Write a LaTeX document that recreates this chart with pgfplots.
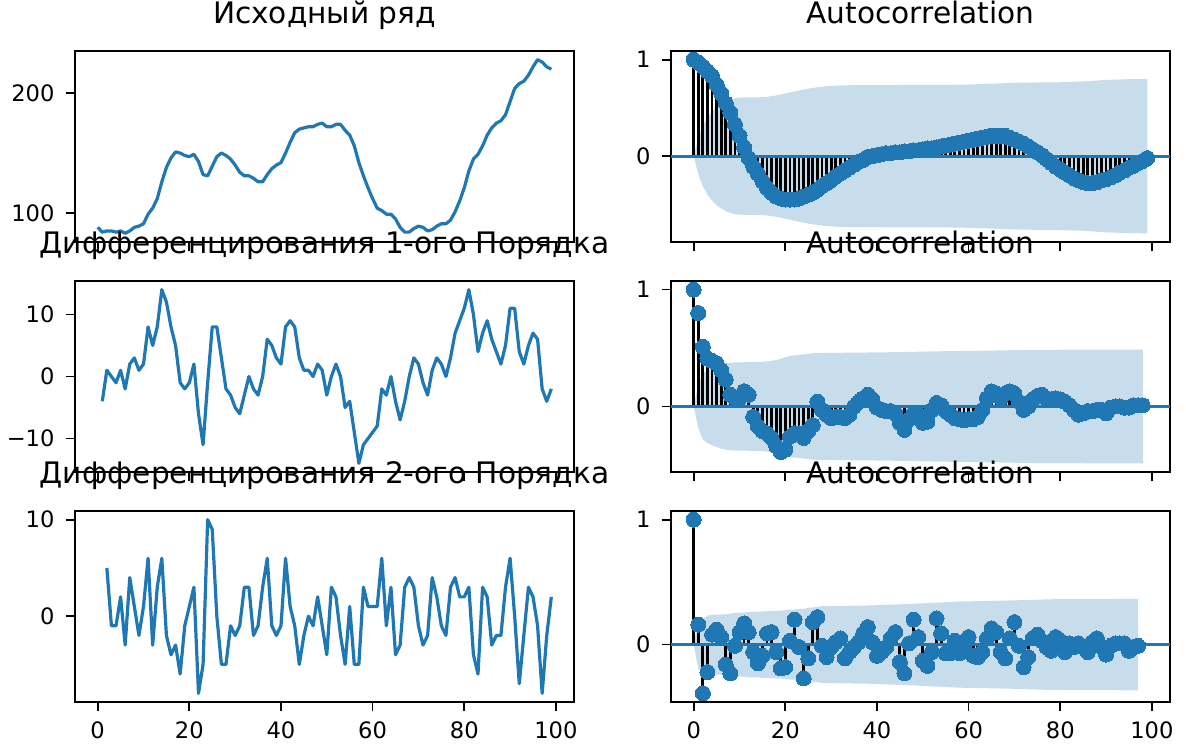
\documentclass[border=0pt]{standalone}
\usepackage{fontspec}
\setmainfont{DejaVu Sans}
\usepackage{pgfplots}
\usepackage{pgfplotstable}
\pgfplotsset{compat=1.18}
\definecolor{mplblue}{HTML}{1F77B4}
\definecolor{bandc}{HTML}{C7DDEC}
\pgfplotsset{
  panel/.style={
    scale only axis, width=249.5pt, height=95.5pt,
    xmin=-4.95, xmax=103.95,
    anchor=north west,
    axis line style={black, line width=0.85pt},
    tick align=outside, tick pos=left,
    major tick length=4.65pt,
    every tick/.append style={black, line width=0.85pt},
    xtick={0,20,40,60,80,100},
    xticklabels={},
    minor tick num=0,
    scaled y ticks=false,
    /pgf/number format/assume math mode=true,
    tick label style={font=\fontsize{11.3}{13.5}\selectfont},
    yticklabel style={anchor=east, inner sep=0pt, xshift=-5.4pt},
    xticklabel style={anchor=north, inner sep=0pt, yshift=-4.9pt},
    title style={font=\fontsize{14.8}{17}\selectfont, at={(0.5,1)}, anchor=base, yshift=7.5pt, inner sep=0pt},
  },
  bottomrow/.style={xticklabels={0,20,40,60,80,100}},
  series/.style={mplblue, line width=1.6pt, line join=round, mark=none},
  stems/.style={ycomb, black, line width=1.4pt, mark=none},
  zline/.style={mplblue, line width=1.6pt, mark=none},
  dots/.style={only marks, mark=*, mark size=3.75pt, mark options={fill=mplblue, draw=mplblue, line width=0pt}},
  bandfill/.style={fill=bandc, draw=none, mark=none},
}
\pgfplotstableread{
k r
0 1.00
1 0.97
2 0.93
3 0.88
4 0.83
5 0.74
6 0.65
7 0.55
8 0.45
9 0.33
10 0.21
11 0.09
12 -0.02
13 -0.11
14 -0.18
15 -0.26
16 -0.33
17 -0.38
18 -0.42
19 -0.44
20 -0.45
21 -0.45
22 -0.45
23 -0.44
24 -0.42
25 -0.40
26 -0.38
27 -0.35
28 -0.31
29 -0.28
30 -0.25
31 -0.21
32 -0.18
33 -0.15
34 -0.12
35 -0.09
36 -0.06
37 -0.04
38 -0.01
39 0.00
40 0.01
41 0.02
42 0.03
43 0.03
44 0.04
45 0.04
46 0.05
47 0.05
48 0.06
49 0.06
50 0.07
51 0.08
52 0.08
53 0.09
54 0.10
55 0.11
56 0.12
57 0.13
58 0.14
59 0.15
60 0.16
61 0.17
62 0.18
63 0.19
64 0.20
65 0.21
66 0.21
67 0.21
68 0.21
69 0.19
70 0.17
71 0.15
72 0.13
73 0.10
74 0.07
75 0.04
76 0.01
77 -0.03
78 -0.07
79 -0.11
80 -0.14
81 -0.17
82 -0.20
83 -0.23
84 -0.25
85 -0.27
86 -0.28
87 -0.28
88 -0.27
89 -0.25
90 -0.24
91 -0.22
92 -0.20
93 -0.17
94 -0.15
95 -0.12
96 -0.10
97 -0.07
98 -0.05
99 -0.02
}\acfA
\pgfplotstableread{
k r
0 1.00
1 0.80
2 0.51
3 0.41
4 0.39
5 0.37
6 0.31
7 0.23
8 0.10
9 0.07
10 0.07
11 0.13
12 0.10
13 -0.09
14 -0.17
15 -0.21
16 -0.23
17 -0.27
18 -0.34
19 -0.39
20 -0.37
21 -0.26
22 -0.23
23 -0.23
24 -0.27
25 -0.21
26 -0.16
27 0.04
28 -0.03
29 -0.07
30 -0.10
31 -0.09
32 -0.09
33 -0.10
34 -0.07
35 0.00
36 0.04
37 0.07
38 0.10
39 0.06
40 -0.01
41 -0.03
42 -0.04
43 -0.04
44 -0.06
45 -0.14
46 -0.20
47 -0.11
48 -0.06
49 -0.07
50 -0.14
51 -0.13
52 -0.03
53 0.03
54 0.01
55 -0.04
56 -0.07
57 -0.10
58 -0.11
59 -0.12
60 -0.11
61 -0.11
62 -0.09
63 -0.03
64 0.07
65 0.13
66 0.11
67 0.07
68 0.11
69 0.13
70 0.11
71 0.04
72 -0.03
73 0.00
74 0.06
75 0.09
76 0.10
77 0.07
78 0.06
79 0.07
80 0.06
81 0.04
82 0.01
83 -0.03
84 -0.07
85 -0.06
86 -0.04
87 -0.04
88 -0.03
89 -0.03
90 -0.06
91 -0.01
92 0.00
93 0.00
94 -0.01
95 -0.01
96 0.01
97 0.01
98 0.01
}\acfB
\pgfplotstableread{
k r
0 1.00
1 0.16
2 -0.39
3 -0.22
4 0.08
5 0.12
6 0.06
7 -0.16
8 -0.23
9 -0.01
10 0.10
11 0.17
12 0.10
13 -0.06
14 -0.15
15 -0.09
16 0.09
17 0.10
18 -0.06
19 -0.19
20 -0.18
21 0.03
22 0.20
23 -0.02
24 -0.27
25 -0.11
26 0.18
27 0.22
28 -0.01
29 -0.10
30 -0.02
31 0.02
32 0.05
33 -0.11
34 -0.06
35 -0.02
36 0.02
37 0.09
38 0.14
39 0.02
40 -0.09
41 -0.06
42 -0.02
43 0.05
44 0.10
45 -0.14
46 -0.23
47 0.01
48 0.20
49 0.06
50 -0.13
51 -0.17
52 -0.06
53 0.21
54 0.09
55 -0.07
56 -0.07
57 0.03
58 -0.07
59 -0.02
60 0.06
61 -0.09
62 -0.10
63 -0.06
64 0.05
65 0.13
66 0.10
67 -0.06
68 -0.11
69 0.05
70 0.18
71 -0.01
72 -0.18
73 -0.10
74 0.05
75 0.08
76 0.03
77 -0.02
78 -0.05
79 0.06
80 0.03
81 -0.06
82 0.01
83 -0.02
84 0.01
85 -0.02
86 -0.06
87 0.02
88 0.05
89 -0.02
90 -0.08
91 -0.01
92 0.01
93 0.01
94 0.01
95 -0.05
96 -0.02
97 -0.01
}\acfC
\begin{document}
\begin{tikzpicture}
\useasboundingbox (0,0) rectangle (593pt,-373.5pt);
% ---------- left column ----------
\begin{axis}[panel, at={(37.5pt,-25.5pt)}, ymin=75.75, ymax=235.25, ytick={100,200}, yticklabels={100,200}, title={Исходный ряд}]
\addplot[series] coordinates {(0,88)(1,84)(2,85)(3,85)(4,84)(5,85)(6,83)(7,85)(8,88)(9,89)(10,91)(11,99)(12,104)(13,112)(14,126)(15,138)(16,146)(17,151)(18,150)(19,148)(20,147)(21,149)(22,143)(23,132)(24,131)(25,139)(26,147)(27,150)(28,148)(29,145)(30,140)(31,134)(32,131)(33,131)(34,129)(35,126)(36,126)(37,132)(38,137)(39,140)(40,142)(41,150)(42,159)(43,167)(44,170)(45,171)(46,172)(47,172)(48,174)(49,175)(50,172)(51,172)(52,174)(53,174)(54,169)(55,165)(56,156)(57,142)(58,131)(59,121)(60,112)(61,104)(62,102)(63,99)(64,99)(65,95)(66,88)(67,84)(68,84)(69,87)(70,89)(71,88)(72,85)(73,86)(74,89)(75,91)(76,91)(77,94)(78,101)(79,110)(80,121)(81,135)(82,145)(83,149)(84,156)(85,165)(86,171)(87,175)(88,177)(89,182)(90,193)(91,204)(92,208)(93,210)(94,215)(95,222)(96,228)(97,226)(98,222)(99,220)};
\end{axis}
\begin{axis}[panel, at={(37.5pt,-140.5pt)}, ymin=-15.4, ymax=15.4, ytick={-10,0,10}, yticklabels={−10,0,10}, title={Дифференцирования 1-ого Порядка}]
\addplot[series] coordinates {(1,-4)(2,1)(3,0)(4,-1)(5,1)(6,-2)(7,2)(8,3)(9,1)(10,2)(11,8)(12,5)(13,8)(14,14)(15,12)(16,8)(17,5)(18,-1)(19,-2)(20,-1)(21,2)(22,-6)(23,-11)(24,-1)(25,8)(26,8)(27,3)(28,-2)(29,-3)(30,-5)(31,-6)(32,-3)(33,0)(34,-2)(35,-3)(36,0)(37,6)(38,5)(39,3)(40,2)(41,8)(42,9)(43,8)(44,3)(45,1)(46,1)(47,0)(48,2)(49,1)(50,-3)(51,0)(52,2)(53,0)(54,-5)(55,-4)(56,-9)(57,-14)(58,-11)(59,-10)(60,-9)(61,-8)(62,-2)(63,-3)(64,0)(65,-4)(66,-7)(67,-4)(68,0)(69,3)(70,2)(71,-1)(72,-3)(73,1)(74,3)(75,2)(76,0)(77,3)(78,7)(79,9)(80,11)(81,14)(82,10)(83,4)(84,7)(85,9)(86,6)(87,4)(88,2)(89,5)(90,11)(91,11)(92,4)(93,2)(94,5)(95,7)(96,6)(97,-2)(98,-4)(99,-2)};
\end{axis}
\begin{axis}[panel, bottomrow, at={(37.5pt,-255.5pt)}, ymin=-8.9, ymax=10.9, ytick={0,10}, yticklabels={0,10}, title={Дифференцирования 2-ого Порядка}]
\addplot[series] coordinates {(2,5)(3,-1)(4,-1)(5,2)(6,-3)(7,4)(8,1)(9,-2)(10,1)(11,6)(12,-3)(13,3)(14,6)(15,-2)(16,-4)(17,-3)(18,-6)(19,-1)(20,1)(21,3)(22,-8)(23,-5)(24,10)(25,9)(26,0)(27,-5)(28,-5)(29,-1)(30,-2)(31,-1)(32,3)(33,3)(34,-2)(35,-1)(36,3)(37,6)(38,-1)(39,-2)(40,-1)(41,6)(42,1)(43,-1)(44,-5)(45,-2)(46,0)(47,-1)(48,2)(49,-1)(50,-4)(51,3)(52,2)(53,-2)(54,-5)(55,1)(56,-5)(57,-5)(58,3)(59,1)(60,1)(61,1)(62,6)(63,-1)(64,3)(65,-4)(66,-3)(67,3)(68,4)(69,3)(70,-1)(71,-3)(72,-2)(73,4)(74,2)(75,-1)(76,-2)(77,3)(78,4)(79,2)(80,2)(81,3)(82,-4)(83,-6)(84,3)(85,2)(86,-3)(87,-2)(88,-2)(89,3)(90,6)(91,0)(92,-7)(93,-2)(94,3)(95,2)(96,-1)(97,-8)(98,-2)(99,2)};
\end{axis}
% ---------- right column ----------
\begin{axis}[panel, at={(335.5pt,-25.5pt)}, ymin=-0.89, ymax=1.09, ytick={0,1}, yticklabels={0,1}, title={Autocorrelation}]
\addplot[bandfill] coordinates {(0,0)(1,0.185)(2,0.315)(3,0.398)(4,0.46)(5,0.508)(6,0.544)(7,0.570)(8,0.589)(9,0.600)(10,0.606)(11,0.608)(13,0.609)(14,0.610)(15,0.611)(16,0.615)(17,0.622)(18,0.629)(19,0.639)(20,0.649)(21,0.660)(22,0.670)(23,0.680)(24,0.690)(25,0.699)(26,0.707)(27,0.714)(28,0.720)(29,0.724)(30,0.728)(31,0.731)(32,0.733)(33,0.734)(35,0.736)(40,0.737)(50,0.738)(55,0.739)(60,0.743)(65,0.751)(70,0.760)(75,0.764)(80,0.766)(85,0.774)(90,0.790)(95,0.798)(99,0.800)
(99,-0.800)(95,-0.798)(90,-0.790)(85,-0.774)(80,-0.766)(75,-0.764)(70,-0.760)(65,-0.751)(60,-0.743)(55,-0.739)(50,-0.738)(40,-0.737)(35,-0.736)(33,-0.734)(32,-0.733)(31,-0.731)(30,-0.728)(29,-0.724)(28,-0.720)(27,-0.714)(26,-0.707)(25,-0.699)(24,-0.690)(23,-0.680)(22,-0.670)(21,-0.660)(20,-0.649)(19,-0.639)(18,-0.629)(17,-0.622)(16,-0.615)(15,-0.611)(14,-0.610)(13,-0.609)(11,-0.608)(10,-0.606)(9,-0.600)(8,-0.589)(7,-0.570)(6,-0.544)(5,-0.508)(4,-0.46)(3,-0.398)(2,-0.315)(1,-0.185)(0,0)};
\addplot[stems] table[x=k,y=r]{\acfA};
\addplot[zline] coordinates {(-4.95,0)(103.95,0)};
\addplot[dots] table[x=k,y=r]{\acfA};
\end{axis}
\begin{axis}[panel, at={(335.5pt,-140.5pt)}, ymin=-0.561, ymax=1.074, ytick={0,1}, yticklabels={0,1}, title={Autocorrelation}]
\addplot[bandfill] coordinates {(0,0)(1,0.187)(2,0.282)(3,0.314)(4,0.332)(5,0.347)(6,0.361)(7,0.370)(8,0.375)(9,0.377)(10,0.378)(12,0.379)(14,0.380)(15,0.383)(16,0.387)(17,0.391)(18,0.398)(19,0.408)(20,0.421)(21,0.432)(22,0.438)(23,0.442)(24,0.446)(25,0.451)(26,0.455)(27,0.457)(35,0.461)(41,0.463)(47,0.467)(53,0.472)(63,0.477)(73,0.484)(83,0.486)(98,0.487)
(98,-0.487)(83,-0.486)(73,-0.484)(63,-0.477)(53,-0.472)(47,-0.467)(41,-0.463)(35,-0.461)(27,-0.457)(26,-0.455)(25,-0.451)(24,-0.446)(23,-0.442)(22,-0.438)(21,-0.432)(20,-0.421)(19,-0.408)(18,-0.398)(17,-0.391)(16,-0.387)(15,-0.383)(14,-0.380)(12,-0.379)(10,-0.378)(9,-0.377)(8,-0.375)(7,-0.370)(6,-0.361)(5,-0.347)(4,-0.332)(3,-0.314)(2,-0.282)(1,-0.187)(0,0)};
\addplot[stems] table[x=k,y=r]{\acfB};
\addplot[zline] coordinates {(-4.95,0)(103.95,0)};
\addplot[dots] table[x=k,y=r]{\acfB};
\end{axis}
\begin{axis}[panel, bottomrow, at={(335.5pt,-255.5pt)}, ymin=-0.4595, ymax=1.0695, ytick={0,1}, yticklabels={0,1}, title={Autocorrelation}]
\addplot[bandfill] coordinates {(0,0)(1,0.198)(2,0.203)(3,0.231)(4,0.239)(5,0.240)(6,0.241)(7,0.243)(8,0.247)(9,0.255)(10,0.255)(11,0.256)(12,0.261)(13,0.262)(14,0.263)(15,0.266)(16,0.267)(17,0.269)(18,0.270)(19,0.271)(20,0.276)(21,0.280)(22,0.280)(23,0.286)(24,0.286)(25,0.296)(26,0.297)(27,0.302)(28,0.308)(38,0.313)(48,0.327)(58,0.345)(68,0.352)(78,0.363)(97,0.366)
(97,-0.366)(78,-0.363)(68,-0.352)(58,-0.345)(48,-0.327)(38,-0.313)(28,-0.308)(27,-0.302)(26,-0.297)(25,-0.296)(24,-0.286)(23,-0.286)(22,-0.280)(21,-0.280)(20,-0.276)(19,-0.271)(18,-0.270)(17,-0.269)(16,-0.267)(15,-0.266)(14,-0.263)(13,-0.262)(12,-0.261)(11,-0.256)(10,-0.255)(9,-0.255)(8,-0.247)(7,-0.243)(6,-0.241)(5,-0.240)(4,-0.239)(3,-0.231)(2,-0.203)(1,-0.198)(0,0)};
\addplot[stems] table[x=k,y=r]{\acfC};
\addplot[zline] coordinates {(-4.95,0)(103.95,0)};
\addplot[dots] table[x=k,y=r]{\acfC};
\end{axis}
\end{tikzpicture}
\end{document}
